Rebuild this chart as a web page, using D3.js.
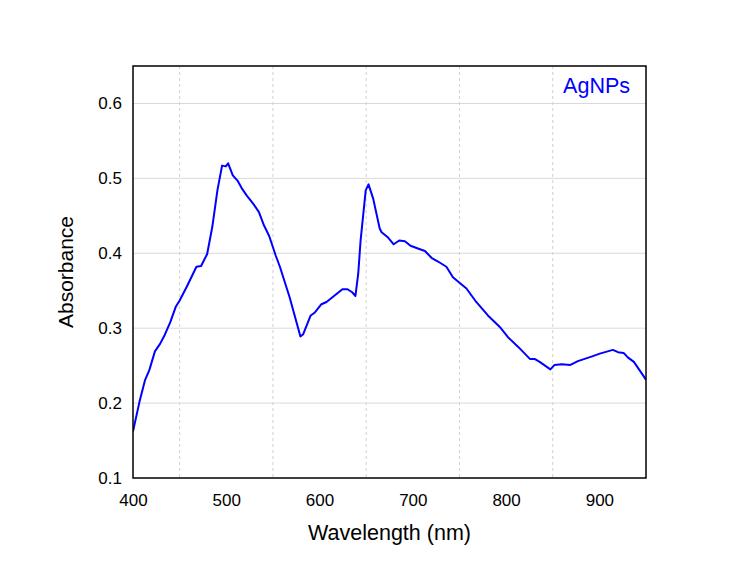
<!DOCTYPE html>
<html>
<head>
<meta charset="utf-8">
<script src="https://cdn.jsdelivr.net/npm/d3@7"></script>
<style>
  body { margin: 0; background: #fff; }
  text { font-family: "Liberation Sans", Arial, sans-serif; }
</style>
</head>
<body>
<script>
// spectrum values
var wavelength = [400, 401, 407, 413, 417.5, 423.5, 429, 434, 440, 446, 450, 457.5, 468, 473, 479.5,
  485, 490.5, 495.5, 499.5, 502, 507, 512, 516.5, 522, 529, 535, 540.5, 546, 553, 557.5, 568, 579.5,
  582.5, 590.5, 595, 602, 607.5, 616.5, 624.5, 630, 635, 638.5, 641.5, 644, 649.5, 652.5, 657.5,
  664.5, 666.5, 673.5, 679.5, 685.5, 691.5, 697.5, 704, 713, 720, 727, 736, 743, 757.5, 768, 780.5,
  793, 802, 813, 825.5, 830.5, 836, 847.5, 852, 859.5, 869, 877, 891.5, 900.5, 914.5, 920, 926,
  930.5, 937, 942.5, 948.5, 950];
var absorbance = [0.162, 0.168, 0.202, 0.231, 0.244, 0.269, 0.279, 0.291, 0.308, 0.329, 0.337, 0.355, 0.382, 0.383, 0.399,
  0.435, 0.484, 0.517, 0.516, 0.520, 0.504, 0.497, 0.487, 0.477, 0.466, 0.455, 0.437, 0.423, 0.397, 0.382, 0.341, 0.289,
  0.292, 0.317, 0.321, 0.332, 0.335, 0.344, 0.352, 0.352, 0.348, 0.343, 0.373, 0.417, 0.484, 0.492, 0.473,
  0.433, 0.428, 0.421, 0.412, 0.417, 0.416, 0.410, 0.407, 0.403, 0.394, 0.389, 0.382, 0.368, 0.353, 0.335, 0.317,
  0.302, 0.288, 0.275, 0.259, 0.259, 0.255, 0.245, 0.251, 0.252, 0.251, 0.256, 0.262, 0.266, 0.271, 0.268, 0.267,
  0.261, 0.255, 0.245, 0.234, 0.231];
var xTicks = [400, 500, 600, 700, 800, 900];
var xGrid = [450, 550, 650, 750, 850];
var yTicks = [0.1, 0.2, 0.3, 0.4, 0.5, 0.6];
var seriesName = "AgNPs";

var svgWidth = 750;
var svgHeight = 574;
var margin = { top: 66, right: 104, bottom: 96, left: 133 };
var chartWidth = svgWidth - margin.left - margin.right;
var chartHeight = svgHeight - margin.top - margin.bottom;

var svg = d3.select("body")
  .append("svg")
  .attr("width", svgWidth)
  .attr("height", svgHeight);

var chartGroup = svg.append("g")
  .attr("transform", `translate(${margin.left}, ${margin.top})`);

var xScale = d3.scaleLinear().domain([400, 950]).range([0, chartWidth]);
var yScale = d3.scaleLinear().domain([0.1, 0.65]).range([chartHeight, 0]);

// grid lines
chartGroup.selectAll(".hgrid")
  .data(yTicks.slice(1))
  .enter()
  .append("line")
  .attr("x1", 0).attr("x2", chartWidth)
  .attr("y1", d => yScale(d)).attr("y2", d => yScale(d))
  .attr("stroke", "#d9d9d9")
  .attr("stroke-width", 1);

chartGroup.selectAll(".vgrid")
  .data(xGrid)
  .enter()
  .append("line")
  .attr("x1", d => xScale(d)).attr("x2", d => xScale(d))
  .attr("y1", 0).attr("y2", chartHeight)
  .attr("stroke", "#d0d0d0")
  .attr("stroke-width", 1)
  .attr("stroke-dasharray", "3,3");

// axes (labels only, no tick marks)
var bottomAxis = d3.axisBottom(xScale).tickValues(xTicks).tickSize(0).tickPadding(16);
var leftAxis = d3.axisLeft(yScale).tickValues(yTicks).tickSize(0).tickPadding(11)
  .tickFormat(d3.format(".1f"));

var gx = chartGroup.append("g")
  .attr("transform", `translate(0, ${chartHeight})`)
  .call(bottomAxis);
var gy = chartGroup.append("g").call(leftAxis);
[gx, gy].forEach(g => {
  g.select(".domain").remove();
  g.selectAll("text")
    .attr("font-family", "Liberation Sans, Arial, sans-serif")
    .attr("font-size", 17)
    .attr("fill", "#000");
});

// spectrum
var drawLine = d3.line()
  .x((d, i) => xScale(wavelength[i]))
  .y(d => yScale(d));

chartGroup.append("defs").append("clipPath")
  .attr("id", "clip")
  .append("rect")
  .attr("width", chartWidth)
  .attr("height", chartHeight);

chartGroup.append("path")
  .datum(absorbance)
  .attr("clip-path", "url(#clip)")
  .attr("d", drawLine)
  .attr("fill", "none")
  .attr("stroke", "#0000ff")
  .attr("stroke-width", 2)
  .attr("stroke-linejoin", "round");

// frame
chartGroup.append("rect")
  .attr("width", chartWidth)
  .attr("height", chartHeight)
  .attr("fill", "none")
  .attr("stroke", "#000")
  .attr("stroke-width", 1.5);

// series label
chartGroup.append("text")
  .attr("x", chartWidth - 16)
  .attr("y", 27)
  .attr("text-anchor", "end")
  .attr("font-size", 21.5)
  .attr("fill", "#0000ff")
  .text(seriesName);

// axis titles
chartGroup.append("text")
  .attr("x", chartWidth / 2)
  .attr("y", chartHeight + 62)
  .attr("text-anchor", "middle")
  .attr("font-size", 21.5)
  .text("Wavelength (nm)");

chartGroup.append("text")
  .attr("transform", "rotate(-90)")
  .attr("x", -chartHeight / 2)
  .attr("y", -60)
  .attr("text-anchor", "middle")
  .attr("font-size", 21)
  .text("Absorbance");
</script>
</body>
</html>
